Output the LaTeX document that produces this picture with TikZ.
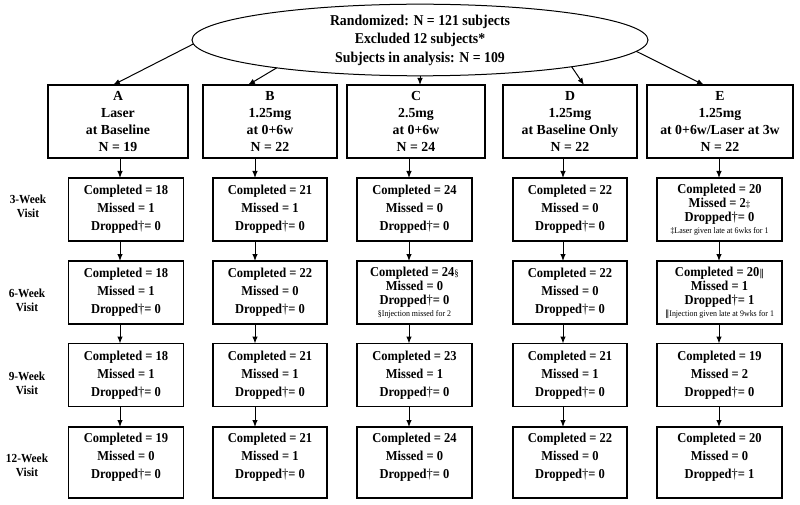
\documentclass[tikz,border=0pt]{standalone}
\usepackage{fontspec}
\setmainfont{Liberation Serif}
\newfontfamily\condserif[FakeStretch=0.92]{Liberation Serif}
\newfontfamily\djvserif{DejaVu Serif}
\usetikzlibrary{arrows.meta,shapes.geometric}

\newcommand\mydag{{\mdseries †}}
\newcommand\mystats[3]{Completed = #1\\Missed = #2\\Dropped\mydag= #3}
\newcommand\mystatslast[3]{Completed = #1\\Missed = #2\\Dropped\mydag= #3\rule[-13.5pt]{0pt}{13.5pt}}
\newcommand\fnmark[1]{{\mdseries\fontsize{9.5}{9}\selectfont #1}}
\newcommand\fntext[1]{{\mdseries\fontsize{8.6}{9}\selectfont #1}}

\tikzset{
  randell/.style={draw, ellipse, line width=1pt, minimum width=456pt, minimum height=70pt,
    inner sep=0pt, outer sep=0pt, align=center, font=\condserif\bfseries\fontsize{15}{18.5}\selectfont},
  topbox/.style={draw, line width=1.3pt, minimum height=73pt, inner sep=0pt, outer sep=0pt,
    align=center, font=\bfseries\fontsize{13.8}{16.8}\selectfont},
  visitbox/.style={draw, line width=1.2pt, minimum height=63pt, inner sep=0pt, outer sep=0pt,
    align=center, font=\condserif\bfseries\fontsize{13.6}{18}\selectfont},
  lastbox/.style={visitbox, minimum height=71pt},
  visitlbl/.style={align=center, inner sep=0pt, font=\condserif\bfseries\fontsize{12.3}{14}\selectfont},
  arr/.style={-{Latex[length=7pt,width=5.5pt]}, line width=1pt},
}

\begin{document}
\begin{tikzpicture}[x=1pt,y=-1pt]
\useasboundingbox[fill=white] (0,0) rectangle (800,505);

% ellipse
\node[randell] (rand) at (420,40) {Randomized: N = 121 subjects\\Excluded 12 subjects*\\Subjects in analysis: N = 109};

% top boxes
\node[topbox, minimum width=140pt] (A) at (118,121.5) {A\\Laser\\at Baseline\\N = 19};
\node[topbox, minimum width=134pt] (B) at (270,121.5) {B\\1.25mg\\at 0+6w\\N = 22};
\node[topbox, minimum width=138pt] (C) at (416,121.5) {C\\2.5mg\\at 0+6w\\N = 24};
\node[topbox, minimum width=134pt] (D) at (570,121.5) {D\\1.25mg\\at Baseline Only\\N = 22};
\node[topbox, minimum width=146pt] (E) at (720,121.5) {E\\1.25mg\\at 0+6w/Laser at 3w\\N = 22};

% column arrow positions
\coordinate (colA) at (120,0);
\coordinate (colB) at (255,0);
\coordinate (colC) at (409,0);
\coordinate (colD) at (563,0);
\coordinate (colE) at (719,0);

% visit labels
\node[visitlbl] (v3) at (28,206.5) {3-Week\\Visit};
\node[visitlbl] (v6) at (27,300) {6-Week\\Visit};
\node[visitlbl] (v9) at (27,383) {9-Week\\Visit};
\node[visitlbl] (v12) at (27,465) {12-Week\\Visit};

% row 1 (3-week)
\node[visitbox, minimum width=115pt] (A1) at (126,209.5) {\mystats{18}{1}{0}};
\node[visitbox, minimum width=114pt] (B1) at (270,209.5) {\mystats{21}{1}{0}};
\node[visitbox, minimum width=115pt] (C1) at (414.5,209.5) {\mystats{24}{0}{0}};
\node[visitbox, minimum width=114pt] (D1) at (570,209.5) {\mystats{22}{0}{0}};
\node[visitbox, minimum width=125pt] (E1) at (719.5,209.5) {Completed = 20\\[-4pt]Missed = 2\fnmark{‡}\\[-4pt]Dropped\mydag= 0\\[-6pt]\fntext{‡Laser given late at 6wks for 1}};

% row 2 (6-week)
\node[visitbox, minimum width=115pt] (A2) at (126,292.5) {\mystats{18}{1}{0}};
\node[visitbox, minimum width=114pt] (B2) at (270,292.5) {\mystats{22}{0}{0}};
\node[visitbox, minimum width=115pt] (C2) at (414.5,292.5) {Completed = 24\fnmark{§}\\[-4pt]Missed = 0\\[-4pt]Dropped\mydag= 0\\[-6pt]\fntext{§Injection missed for 2}};
\node[visitbox, minimum width=114pt] (D2) at (570,292.5) {\mystats{22}{0}{0}};
\node[visitbox, minimum width=125pt] (E2) at (719.5,292.5) {Completed = 20\fnmark{\djvserif ‖}\\[-4pt]Missed = 1\\[-4pt]Dropped\mydag= 1\\[-6pt]\fntext{{\djvserif ‖}Injection given late at 9wks for 1}};

% row 3 (9-week)
\node[visitbox, minimum width=115pt] (A3) at (126,375) {\mystats{18}{1}{0}};
\node[visitbox, minimum width=114pt] (B3) at (270,375) {\mystats{21}{1}{0}};
\node[visitbox, minimum width=115pt] (C3) at (414.5,375) {\mystats{23}{1}{0}};
\node[visitbox, minimum width=114pt] (D3) at (570,375) {\mystats{21}{1}{0}};
\node[visitbox, minimum width=125pt] (E3) at (719.5,375) {\mystats{19}{2}{0}};

% row 4 (12-week)
\node[lastbox, minimum width=115pt] (A4) at (126,462.5) {\mystatslast{19}{0}{0}};
\node[lastbox, minimum width=114pt] (B4) at (270,462.5) {\mystatslast{21}{1}{0}};
\node[lastbox, minimum width=115pt] (C4) at (414.5,462.5) {\mystatslast{24}{0}{0}};
\node[lastbox, minimum width=114pt] (D4) at (570,462.5) {\mystatslast{22}{0}{0}};
\node[lastbox, minimum width=125pt] (E4) at (719.5,462.5) {\mystatslast{20}{0}{1}};

% arrows from ellipse
\draw[arr] (rand.181) -- ([xshift=-5pt]A.north);
\draw[arr] (rand.191) -- ([xshift=-22pt]B.north);
\draw[arr] (rand.south) -- (rand.south |- C.north);
\draw[arr] (rand.350) -- ([xshift=14pt]D.north);
\draw[arr] (rand.357) -- ([xshift=-16pt]E.north);

% vertical arrows
\foreach \c in {A,B,C,D,E} {
  \draw[arr] (\c.south -| col\c) -- (\c1.north -| col\c);
  \draw[arr] (\c1.south -| col\c) -- (\c2.north -| col\c);
  \draw[arr] (\c2.south -| col\c) -- (\c3.north -| col\c);
  \draw[arr] (\c3.south -| col\c) -- (\c4.north -| col\c);
}
\end{tikzpicture}
\end{document}
